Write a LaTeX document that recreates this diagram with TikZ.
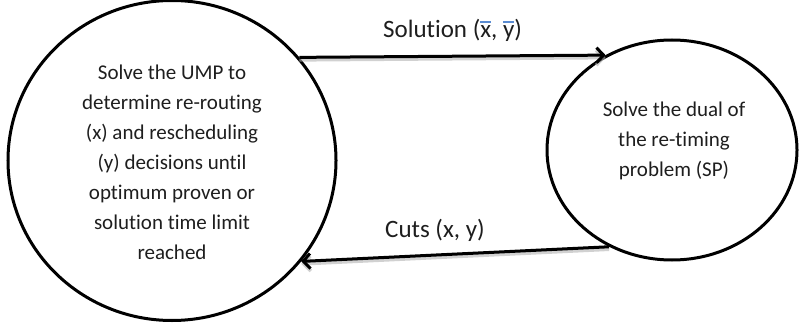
\documentclass[tikz,border=0pt]{standalone}
\usepackage{fontspec}
\setmainfont{Carlito}[Ligatures={NoCommon}]
\usetikzlibrary{shapes.geometric,arrows.meta}
\definecolor{ovc}{RGB}{91,140,210}
\definecolor{txt}{RGB}{30,30,30}
\newcommand{\ovlchar}[1]{\leavevmode\setbox0\hbox{#1}\rlap{\raisebox{0.6em}{\textcolor{ovc}{\rule{\wd0}{0.07em}}}}#1}
\tikzset{
  bubble/.style={draw=black, line width=3pt, ellipse, inner sep=0pt},
  bubbletext/.style={align=center, text=txt, font=\fontsize{21}{30}\selectfont, inner sep=0pt},
  flowlabel/.style={text=txt, font=\fontsize{25}{30}\selectfont, inner sep=0pt, anchor=base west},
  flow/.style={draw=black, line width=3pt, -{Straight Barb[length=7pt,width=15pt]}},
  flowshadow/.style={draw=black!30, line width=3.5pt, opacity=0.6, -{Straight Barb[length=7pt,width=15pt]}}
}
\begin{document}
\begin{tikzpicture}[x=1pt,y=-1pt]
\useasboundingbox (0,0) rectangle (799,323);
\node[bubble, minimum width=328pt, minimum height=320pt] (L) at (172,160.5) {};
\node[bubble, minimum width=250pt, minimum height=220pt] (R) at (672,150) {};
\node[bubbletext] (Lt) at (172,162) {Solve the UMP to\\determine re-routing\\(x) and rescheduling\\(y) decisions until\\optimum proven or\\solution time limit\\reached};
\node[bubbletext] (Rt) at (674,141) {Solve the dual of\\the re-timing\\problem (SP)};
\draw[flowshadow] ([yshift=-2.5pt]L.39.6) -- ([yshift=-2.5pt]R.125.8);
\draw[flow] (L.39.6) -- (R.125.8);
\draw[flowshadow] ([yshift=-2.5pt]R.237) -- ([yshift=-2.5pt]L.322.8);
\draw[flow] (R.237) -- (L.322.8);
\node[flowlabel] (sol) at (383,38) {Solution (\ovlchar{x}, \ovlchar{y})};
\node[flowlabel] (cuts) at (385,237) {Cuts (x, y)};
\end{tikzpicture}
\end{document}
